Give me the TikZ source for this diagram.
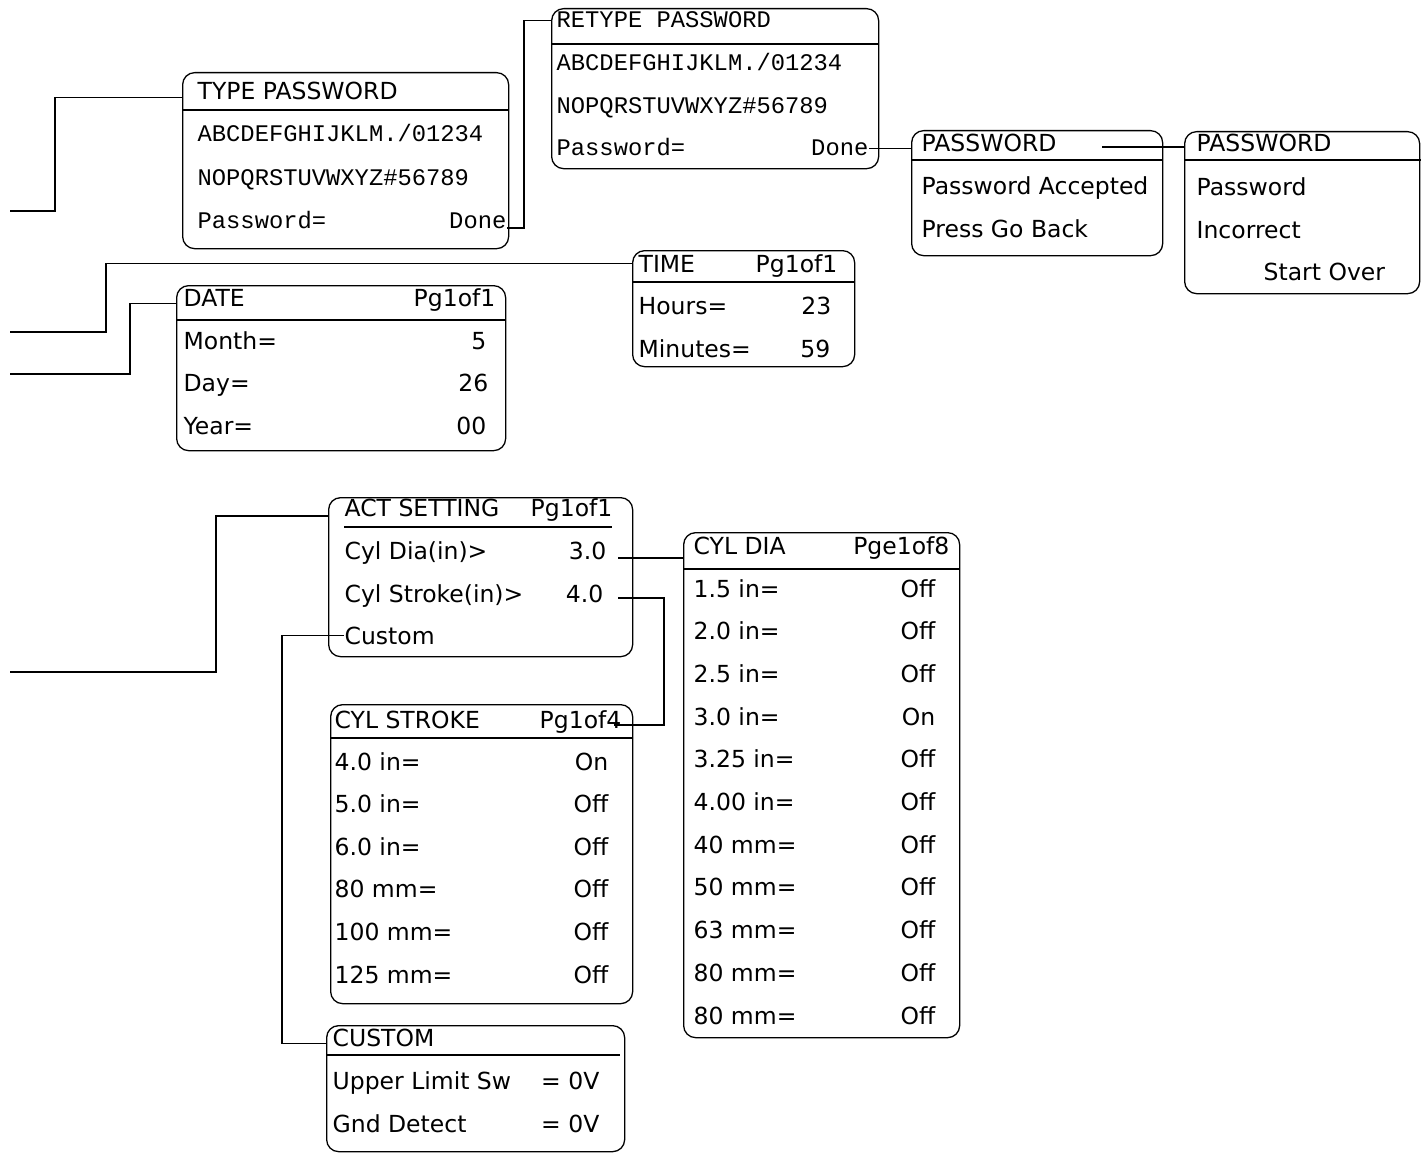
\documentclass[tikz,border=0pt]{standalone}
\usepackage{fontspec}
\setmainfont{DejaVu Sans}
\newfontfamily\keyfont{Liberation Mono}
\usepackage{tikz}
\usetikzlibrary{positioning}

\begin{document}
\begin{tikzpicture}[x=1pt,y=-1pt,line width=1.3pt,
 screen/.style={draw,rounded corners=12pt,inner sep=0,anchor=north west},
 txt/.style={inner sep=0,anchor=base west,font=\fontsize{23.5}{28}\selectfont},
 num/.style={txt,anchor=base east},
 key/.style={txt,font=\fontsize{23.8}{28}\keyfont}]
\useasboundingbox (0,0) rectangle (1424,1153);
% password screens
\node[screen,minimum width=326,minimum height=176](typepw) at (182,72){};
\draw(182,110)--(508,110);
\node[txt](typepw-h) at (197,100){TYPE PASSWORD};
\node[key](typepw-a) at (197,142){ABCDEFGHIJKLM./01234};
\node[key](typepw-b) at (197,185){NOPQRSTUVWXYZ\#56789};
\node[key](typepw-p) at (197,228){Password=};
\node[key,anchor=base east](typepw-d) at (507,228){Done};
\node[screen,minimum width=327,minimum height=160](retype) at (551,8){};
\draw(551,44)--(878,44);
\node[key](retype-h) at (556,28){RETYPE PASSWORD};
\node[key](retype-a) at (556,71){ABCDEFGHIJKLM./01234};
\node[key](retype-b) at (556,114){NOPQRSTUVWXYZ\#56789};
\node[key](retype-p) at (556,156){Password=};
\node[key,anchor=base east](retype-d) at (869,156){Done};
\node[screen,minimum width=251,minimum height=125](pwok) at (911,130){};
\draw(911,160)--(1162,160);
\node[txt](pwok-h) at (921,151){PASSWORD};
\node[txt](pwok-a) at (921,194){Password Accepted};
\node[txt](pwok-b) at (921,237){Press Go Back};
\node[screen,minimum width=235,minimum height=162](pwbad) at (1184,131){};
\draw(1184,160)--(1421,160);
\node[txt](pwbad-h) at (1196,152){PASSWORD};
\node[txt](pwbad-a) at (1196,195){Password};
\node[txt](pwbad-b) at (1196,238){Incorrect};
\node[txt](pwbad-c) at (1263,280){Start Over};
% time and date
\node[screen,minimum width=222,minimum height=116](time) at (632,250){};
\draw(632,282)--(854,282);
\node[txt](time-h) at (638,272){TIME};
\node[num](time-pg) at (838,272){Pg1of1};
\node[txt](time-a) at (638,314){Hours=};
\node[num](time-av) at (832,314){23};
\node[txt](time-b) at (638,357){Minutes=};
\node[num](time-bv) at (831,357){59};
\node[screen,minimum width=329,minimum height=165](date) at (176,285){};
\draw(176,320)--(505,320);
\node[txt](date-h) at (183,306){DATE};
\node[num](date-pg) at (496,306){Pg1of1};
\node[txt](date-a) at (183,349){Month=};
\node[num](date-av) at (487,349){5};
\node[txt](date-b) at (183,391){Day=};
\node[num](date-bv) at (489,391){26};
\node[txt](date-c) at (183,434){Year=};
\node[num](date-cv) at (487,434){00};
% actuator settings
\node[screen,minimum width=304,minimum height=159](act) at (328,497){};
\draw(344,527)--(612,527);
\node[txt](act-h) at (344,516){ACT SETTING};
\node[num](act-pg) at (613,516){Pg1of1};
\node[txt](act-dia) at (344,559){Cyl Dia(in)>};
\node[num](act-diav) at (607,559){3.0};
\node[txt](act-str) at (344,602){Cyl Stroke(in)>};
\node[num](act-strv) at (604,602){4.0};
\node[txt](act-c) at (344,644){Custom};
\node[screen,minimum width=276,minimum height=505](dia) at (683,532){};
\draw(683,569)--(959,569);
\node[txt](dia-h) at (693,554){CYL DIA};
\node[num](dia-pg) at (950,554){Pge1of8};
\foreach \lab/\st [count=\i] in {1.5 in=/Off,2.0 in=/Off,2.5 in=/Off,3.0 in=/On,3.25 in=/Off,4.00 in=/Off,40 mm=/Off,50 mm=/Off,63 mm=/Off,80 mm=/Off,80 mm=/Off}{
\node[txt](dia-\i) at (693,{554.3+42.7*\i}){\lab};
\node[num](dia-\i-v) at (936,{554.3+42.7*\i}){\st};}
\node[screen,minimum width=302,minimum height=299](str) at (330,704){};
\draw(330,738)--(632,738);
\node[txt](str-h) at (334,728){CYL STROKE};
\node[num](str-pg) at (622,728){Pg1of4};
\foreach \lab/\st [count=\i] in {4.0 in=/On,5.0 in=/Off,6.0 in=/Off,80 mm=/Off,100 mm=/Off,125 mm=/Off}{
\node[txt](str-\i) at (334,{727.4+42.6*\i}){\lab};
\node[num](str-\i-v) at (609,{727.4+42.6*\i}){\st};}
\node[screen,minimum width=298,minimum height=126](custom) at (326,1025){};
\draw(326,1055)--(620,1055);
\node[txt](custom-h) at (332,1046){CUSTOM};
\node[txt](custom-a) at (332,1089){Upper Limit Sw};
\node[num](custom-av) at (600,1089){= 0V};
\node[txt](custom-b) at (332,1132){Gnd Detect};
\node[num](custom-bv) at (600,1132){= 0V};
% connectors
\coordinate(in-pw) at (10,211);
\coordinate(in-time) at (10,332);
\coordinate(in-date) at (10,374);
\coordinate(in-act) at (10,672);
\coordinate(pwok-t) at (1102,147);
\coordinate(act-dia-t) at (618,558);
\coordinate(act-str-t) at (618,598);
\coordinate(str-in) at (614,725);
\draw(in-pw)--++(45,0)|-(typepw.west|-typepw-h.mid);
\draw(typepw-d.base east)--++(17,0)|-(retype.west|-retype-h);
\draw(retype-d.east)--(retype-d.east-|pwok.west);
\draw(pwok-t)--(pwok-t-|pwbad.west);
\draw(in-time)--++(96,0)|-(time.west|-time-h);
\draw(in-date)--++(120,0)|-(date.west|-date-h.mid);
\draw(in-act)--++(206,0)|-(act.west|-act-h.base);
\draw(act-dia-t)--(act-dia-t-|dia.west);
\draw(act-str-t)--++(46,0)|-(str-in);
\draw(act-c.west)--++(-62,0)|-(custom.west|-custom-h.mid);
\end{tikzpicture}
\end{document}
